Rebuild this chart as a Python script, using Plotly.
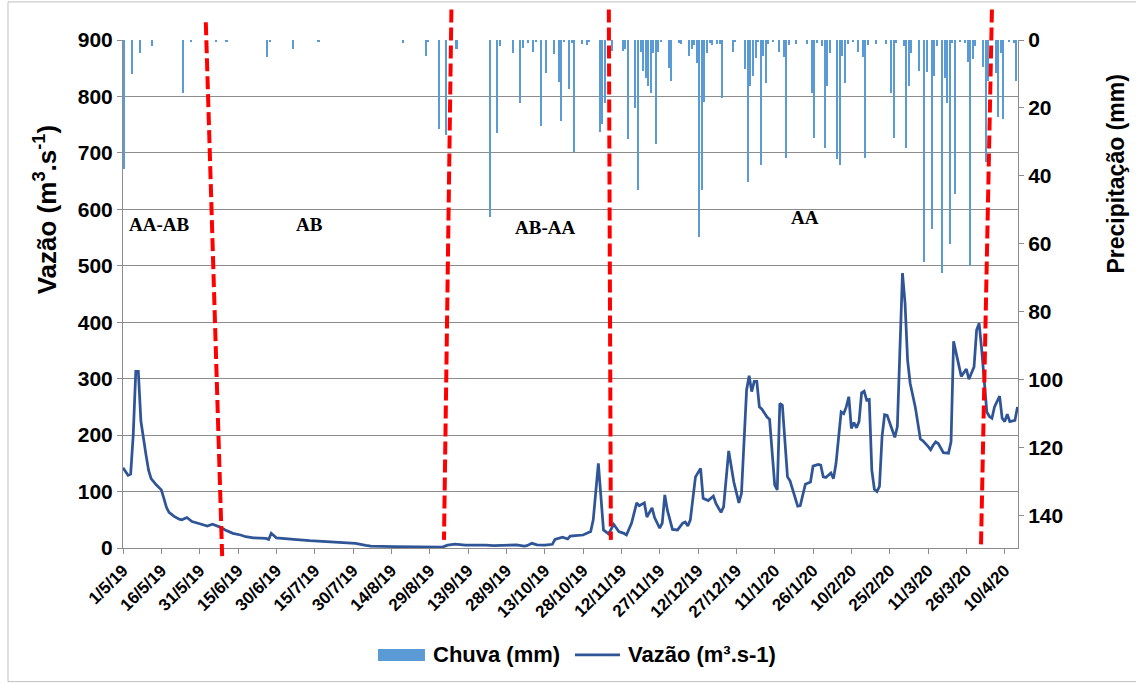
import pandas as pd
import plotly.graph_objects as go

START = pd.Timestamp("2019-05-01")

# Daily river discharge (m3/s); days counted from 1 May 2019
flow_days = [
    0, 2, 3, 4, 5, 6, 7, 8, 9, 10,
    11, 13, 15, 16, 17, 18, 20, 22, 23, 25,
    27, 30, 33, 35, 38, 40, 43, 46, 48, 51,
    56, 57, 58, 60, 63, 68, 73, 80, 86, 91,
    95, 97, 106, 110, 114, 125, 127, 130, 134, 138,
    140, 142, 145, 149, 154, 157, 158, 160, 162, 165,
    168, 169, 172, 174, 175, 177, 180, 183, 184, 186,
    187, 188, 190, 192, 194, 196, 197, 199, 201, 202,
    204, 205, 207, 208, 210, 211, 212, 213, 215, 217,
    219, 220, 221, 222, 224, 226, 227, 229, 231, 232,
    234, 235, 237, 239, 241, 242, 244, 245, 246, 247,
    248, 249, 250, 252, 253, 255, 256, 257, 258, 260,
    261, 262, 264, 265, 267, 269, 270, 272, 273, 274,
    275, 277, 278, 279, 281, 282, 283, 284, 285, 286,
    287, 288, 289, 290, 291, 292, 293, 294, 295, 296,
    297, 298, 299, 301, 302, 303, 304, 305, 306, 307,
    308, 310, 312, 313, 315, 316, 317, 318, 319, 320,
    321, 323, 324, 325, 327, 328, 330, 331, 332, 333,
    334, 335, 336, 337, 338, 339, 340, 341, 343, 344,
    345, 346, 347, 349, 350,
]
flow_values = [
    142, 129, 131, 200, 313, 313, 225, 190, 165, 138,
    123, 112, 103, 88, 72, 63, 56, 51, 50, 54,
    47, 43, 39, 42, 37, 32, 26, 23, 20, 18,
    17, 15, 26, 18, 16.5, 15, 13, 11, 10, 8,
    4.5, 3.5, 2.5, 2.4, 1.5, 1.5, 5, 7, 5, 5.5,
    4.5, 5, 4, 5, 5.5, 3.5, 4, 8.3, 5.5, 5,
    6.5, 15, 19, 16, 21, 22, 23, 29, 50, 150,
    85, 32, 25, 42, 29, 26, 23, 44, 80, 75,
    80, 55, 71, 54, 35, 44, 94, 67, 33, 32,
    44, 46, 39, 50, 126, 141, 88, 84, 92, 79,
    63, 73, 172, 117, 80, 97, 280, 305, 277, 295,
    295, 250, 246, 232, 228, 112, 103, 256, 253, 126,
    119, 103, 74, 75, 113, 117, 145, 148, 147, 126,
    125, 133, 123, 150, 241, 238, 250, 268, 212, 222,
    213, 224, 275, 278, 262, 263, 138, 104, 100, 109,
    197, 236, 235, 209, 196, 215, 360, 487, 434, 333,
    292, 250, 193, 190, 180, 174, 182, 188, 185, 176,
    169, 168, 188, 366, 321, 304, 317, 299, 310, 321,
    386, 398, 351, 298, 241, 233, 230, 250, 269, 230,
    224, 237, 224, 226, 250,
]

# Daily rainfall (mm) on rainy days; days counted from 1 May 2019
rain_days = [
    0, 3, 6, 11, 23, 26, 36, 40, 56, 57,
    66, 76, 109, 118, 119, 123, 126, 130, 143, 146,
    147, 152, 155, 156, 158, 160, 161, 163, 165, 168,
    170, 171, 172, 174, 175, 176, 179, 181, 182, 186,
    187, 188, 191, 195, 196, 197, 200, 201, 202, 203,
    204, 205, 206, 207, 208, 209, 210, 213, 214, 217,
    218, 221, 222, 223, 224, 225, 226, 227, 228, 229,
    230, 232, 233, 234, 238, 239, 243, 244, 245, 246,
    247, 248, 249, 250, 251, 252, 254, 256, 258, 259,
    260, 263, 267, 269, 270, 271, 273, 274, 275, 276,
    279, 280, 281, 282, 283, 285, 287, 289, 290, 291,
    294, 298, 300, 301, 302, 305, 306, 307, 308, 311,
    313, 314, 316, 317, 318, 320, 321, 322, 323, 324,
    325, 327, 329, 330, 331, 332, 333, 336, 337, 338,
    341, 342, 343, 344, 346, 348, 349, 350,
]
rain_mm = [
    38, 10, 3.7, 1.8, 15.7, 0.5, 0.5, 0.5, 4.9, 0.5,
    2.6, 0.5, 1, 4.7, 0.5, 26.2, 28.1, 2.7, 52, 27.5,
    1.8, 3.9, 18.6, 2.5, 1, 3.4, 0.5, 25.3, 9.8, 4.2,
    12.5, 23.7, 0.5, 14.4, 1, 33.1, 1.2, 1.6, 0.5, 27.2,
    24.8, 18.6, 3.1, 3.1, 2.6, 29.2, 19.9, 44, 3.4, 9,
    11.3, 13.4, 15.7, 3.9, 30.7, 3.6, 0.5, 8.3, 12, 0.8,
    1.2, 4.7, 2.7, 1.6, 6.9, 58, 44, 18.1, 3.9, 0.8,
    1.6, 1.3, 1.2, 17.2, 3.4, 0.5, 8.6, 41.7, 13.5, 10.6,
    5.4, 0.5, 36.8, 4.7, 12.7, 1.2, 0.5, 3.4, 4.9, 34.8,
    1.4, 1.2, 1.2, 15.5, 28.9, 1, 1.9, 31.9, 13.5, 3.7,
    35.1, 36.8, 4.7, 12.7, 1.2, 0.5, 3.4, 4.9, 34.8, 1.4,
    1.2, 1.2, 15.5, 28.9, 1, 1.9, 31.9, 13.5, 3.7, 9,
    65.2, 9.4, 55.7, 10.6, 1.9, 68.6, 11.3, 18.6, 60, 0.8,
    45.4, 0.5, 0.8, 6.4, 66.5, 5.7, 1.9, 8, 36, 12.1,
    9.8, 22.8, 3.9, 23.3, 0.6, 0.8, 12, 26.3,
]

tick_labels = [
    "1/5/19", "16/5/19", "31/5/19", "15/6/19", "30/6/19", "15/7/19",
    "30/7/19", "14/8/19", "29/8/19", "13/9/19", "28/9/19", "13/10/19",
    "28/10/19", "12/11/19", "27/11/19", "12/12/19", "27/12/19", "11/1/20",
    "26/1/20", "10/2/20", "25/2/20", "11/3/20", "26/3/20", "10/4/20",
]

# Hydrological periods and their labels
period_names = ["AA-AB", "AB", "AB-AA", "AA"]
period_label_days = [14, 73, 165, 267]
period_label_flow = [574, 574, 567, 585]

# Hand-drawn period boundaries: (day, paper-y) at top and bottom
boundary_top_days = [32.4, 128.5, 190.1, 340.0]
boundary_top_y = [1.035, 1.06, 1.06, 1.06]
boundary_bottom_days = [38.8, 125.6, 190.9, 335.7]
boundary_bottom_y = [-0.016, 0.016, 0.016, 0.0]

RAIN_NAME = "Chuva (mm)"
FLOW_NAME = "Vazão (m³.s-1)"
RAIN_COLOR = "#5B9BD5"
FLOW_COLOR = "#2F5597"
FONT = "Arial, Liberation Sans, sans-serif"
GRID = "#8C8C8C"
DAY_MS = 86400000


def to_date(d):
    return START + pd.Timedelta(days=d)


flow_x = [to_date(d) for d in flow_days]
rain_x = [to_date(d) for d in rain_days]
tick_vals = [pd.to_datetime(t, format="%d/%m/%y") for t in tick_labels]

fig = go.Figure()

fig.add_trace(go.Bar(
    x=rain_x, y=rain_mm, name=RAIN_NAME, yaxis="y2",
    marker=dict(color=RAIN_COLOR, line=dict(width=0)),
    width=0.8 * DAY_MS, offset=0.1 * DAY_MS, showlegend=False,
))

fig.add_trace(go.Scatter(
    x=flow_x, y=flow_values, name=FLOW_NAME, mode="lines",
    line=dict(color=FLOW_COLOR, width=2.75), showlegend=False,
))

shapes = []
for x0, y0, x1, y1 in zip(boundary_top_days, boundary_top_y,
                          boundary_bottom_days, boundary_bottom_y):
    shapes.append(dict(
        type="line", xref="x", yref="paper",
        x0=to_date(x0), y0=y0, x1=to_date(x1), y1=y1,
        line=dict(color="#FF0000", width=4, dash="13px,5px"),
        layer="above",
    ))
# outer chart frame
shapes.append(dict(
    type="rect", xref="paper", yref="paper",
    x0=-0.1285, y0=-0.263, x1=1.1855, y1=1.075,
    line=dict(color="#BFBFBF", width=1), fillcolor="rgba(0,0,0,0)",
    layer="below",
))
# legend keys below the plot
LEGEND_Y = -0.2106
shapes.append(dict(
    type="rect", xref="paper", yref="paper",
    x0=0.2849, x1=0.3374, y0=-0.2224, y1=-0.1988,
    line=dict(width=0), fillcolor=RAIN_COLOR,
))
shapes.append(dict(
    type="line", xref="paper", yref="paper",
    x0=0.505, x1=0.5553, y0=LEGEND_Y, y1=LEGEND_Y,
    line=dict(color=FLOW_COLOR, width=2.75),
))

legend_font = dict(family=FONT, size=22, color="black", weight="bold")
annotations = []
for text, x in [(RAIN_NAME, 0.3441), (FLOW_NAME, 0.562)]:
    annotations.append(dict(
        x=x, y=LEGEND_Y, xref="paper", yref="paper", xanchor="left",
        yanchor="middle", text=text, showarrow=False, font=legend_font,
    ))

for name, d, v in zip(period_names, period_label_days, period_label_flow):
    annotations.append(dict(
        x=to_date(d), y=v, xref="x", yref="y", text=name, showarrow=False,
        font=dict(family="Liberation Serif, Times New Roman, serif",
                  size=19, color="black", weight="bold"),
    ))
annotations.append(dict(
    x=-0.087, y=0.665, xref="paper", yref="paper",
    xanchor="center", yanchor="middle",
    text="Vazão (m<sup>3</sup>.s<sup>-1</sup>)", textangle=-90,
    showarrow=False, font=dict(family=FONT, size=26, color="black", weight="bold"),
))
annotations.append(dict(
    x=1.11, y=0.736, xref="paper", yref="paper",
    xanchor="center", yanchor="middle",
    text="Precipitação (mm)", textangle=-90,
    showarrow=False, font=dict(family=FONT, size=23, color="black", weight="bold"),
))

fig.update_layout(
    width=1136, height=684,
    margin=dict(l=123, r=118, t=40, b=136),
    paper_bgcolor="white", plot_bgcolor="white",
    bargap=0,
    showlegend=False,
    xaxis=dict(
        type="date",
        range=[to_date(0), to_date(350.2)],
        tickvals=tick_vals, ticktext=tick_labels, tickangle=-45,
        tickfont=dict(family=FONT, size=17, color="black", weight="bold"),
        ticks="outside", ticklen=5, tickcolor=GRID,
        showline=True, linecolor=GRID, linewidth=1,
        showgrid=False, zeroline=False,
    ),
    yaxis=dict(
        range=[0, 900], dtick=100,
        tickfont=dict(family=FONT, size=21, color="black", weight="bold"),
        ticks="outside", ticklen=5, tickcolor=GRID,
        showline=True, linecolor=GRID, linewidth=1,
        showgrid=True, gridcolor=GRID, gridwidth=1, zeroline=False,
    ),
    yaxis2=dict(
        overlaying="y", side="right",
        range=[149.5, 0], tickvals=[0, 20, 40, 60, 80, 100, 120, 140],
        tickfont=dict(family=FONT, size=21, color="black", weight="bold"),
        ticks="outside", ticklen=5, tickcolor=GRID,
        showline=True, linecolor=GRID, linewidth=1,
        showgrid=False, zeroline=False,
    ),
    shapes=shapes,
    annotations=annotations,
)

fig.write_html("out.html")
